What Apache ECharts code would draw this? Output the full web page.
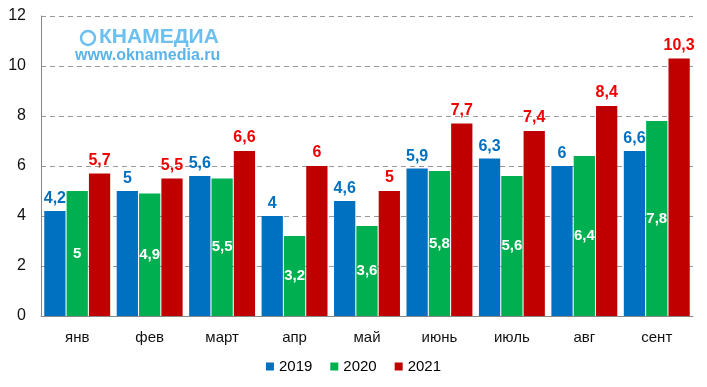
<!DOCTYPE html>
<html><head><meta charset="utf-8">
<script src="https://cdn.jsdelivr.net/npm/echarts@6/dist/echarts.min.js"></script>
<style>html,body{margin:0;padding:0;background:#fff}#c{width:707px;height:387px}</style>
</head><body><div id="c"></div>
<script>
var categories = ['янв','фев','март','апр','май','июнь','июль','авг','сент'];
var s2019 = [4.2,5,5.6,4,4.6,5.9,6.3,6,6.6];
var s2020 = [5,4.9,5.5,3.2,3.6,5.8,5.6,6.4,7.8];
var s2021 = [5.7,5.5,6.6,6,5,7.7,7.4,8.4,10.3];
var yTicks = [0,2,4,6,8,10,12];

var fmt = function(p){ return String(p.value).replace('.', ','); };
var font = 'Liberation Sans, Arial, sans-serif';
var chart = echarts.init(document.getElementById('c'));
chart.setOption({
  animation:false,
  textStyle:{fontFamily:font},
  grid:{left:41,right:14,top:16,bottom:71},
  legend:{bottom:8,left:'center',itemWidth:8,itemHeight:8,itemGap:18,icon:'rect',
    textStyle:{fontSize:15,color:'#000',fontFamily:font},data:['2019','2020','2021']},
  xAxis:{type:'category',data:categories,
    axisLine:{lineStyle:{color:'#888'}},axisTick:{show:false},
    axisLabel:{fontSize:15,color:'#111',margin:14,fontFamily:font}},
  yAxis:{type:'value',min:yTicks[0],max:yTicks[yTicks.length-1],interval:2,
    axisLine:{show:true,lineStyle:{color:'#888'}},axisTick:{show:false},
    axisLabel:{fontSize:16,color:'#111',margin:15,fontFamily:font},
    splitLine:{show:true,lineStyle:{color:'#999',type:[5,4]}}},
  series:[
    {name:'2019',type:'bar',data:s2019,barGap:'5%',barCategoryGap:'9%',
     itemStyle:{color:'#0070c0'},
     label:{show:true,position:'top',distance:4,formatter:fmt,color:'#0070c0',fontWeight:'bold',fontSize:16,fontFamily:font}},
    {name:'2020',type:'bar',data:s2020,itemStyle:{color:'#00b050'},
     label:{show:true,position:'inside',formatter:fmt,color:'#fff',fontWeight:'bold',fontSize:15,fontFamily:font}},
    {name:'2021',type:'bar',data:s2021,itemStyle:{color:'#c00000'},
     label:{show:true,position:'top',distance:5,formatter:fmt,color:'#f00000',fontWeight:'bold',fontSize:16,fontFamily:font}}
  ],
  graphic:[
    {type:'rect',left:60,top:22,shape:{width:180,height:42},style:{fill:'#fff'},z:10},
    {type:'circle',shape:{cx:88,cy:38,r:7},style:{fill:'none',stroke:'#6cc0ef',lineWidth:2.5},z:11},
    {type:'text',left:99,top:27,style:{text:'КНАМЕДИА',font:'bold 21px Liberation Sans, Arial',fill:'#6cc0ef'},z:11},
    {type:'text',left:75,top:48,style:{text:'www.oknamedia.ru',font:'bold 16px Liberation Sans, Arial',fill:'#5bb4e8'},z:11}
  ]
});
</script></body></html>
